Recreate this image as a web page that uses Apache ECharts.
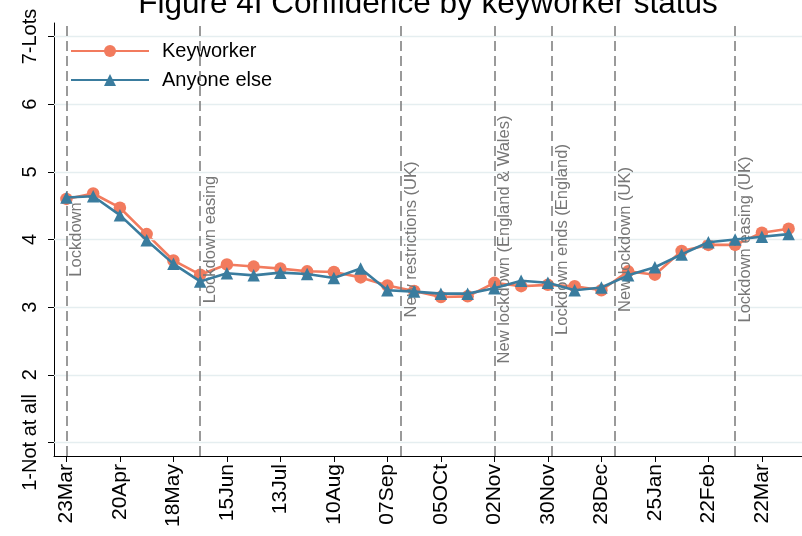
<!DOCTYPE html>
<html><head><meta charset="utf-8">
<script src="https://cdn.jsdelivr.net/npm/echarts@6/dist/echarts.min.js"></script>
<style>html,body{margin:0;padding:0;background:#fff}#c{width:802px;height:536px}</style>
</head><body><div id="c"></div>
<script>
const sampleDates = ['2020-03-23','2020-04-06','2020-04-20','2020-05-04','2020-05-18','2020-06-01','2020-06-15','2020-06-29','2020-07-13','2020-07-27','2020-08-10','2020-08-24','2020-09-07','2020-09-21','2020-10-05','2020-10-19','2020-11-02','2020-11-16','2020-11-30','2020-12-14','2020-12-28','2021-01-11','2021-01-25','2021-02-08','2021-02-22','2021-03-08','2021-03-22','2021-04-05'];
const keyworker = [4.60,4.68,4.47,4.08,3.69,3.48,3.63,3.60,3.57,3.53,3.52,3.44,3.32,3.24,3.15,3.16,3.36,3.31,3.33,3.31,3.25,3.53,3.48,3.83,3.92,3.92,4.10,4.16];
const anyoneElse = [4.62,4.64,4.36,3.99,3.64,3.38,3.50,3.47,3.51,3.49,3.43,3.57,3.25,3.23,3.20,3.20,3.28,3.39,3.36,3.25,3.29,3.47,3.59,3.78,3.96,4.00,4.04,4.08];
const tickDates = ['2020-03-23','2020-04-20','2020-05-18','2020-06-15','2020-07-13','2020-08-10','2020-09-07','2020-10-05','2020-11-02','2020-11-30','2020-12-28','2021-01-25','2021-02-22','2021-03-22'];
const tickLabels = ['23Mar','20Apr','18May','15Jun','13Jul','10Aug','07Sep','05OCt','02Nov','30Nov','28Dec','25Jan','22Feb','22Mar'];
const eventDates = ['2020-03-23','2020-06-01','2020-09-14','2020-11-02','2020-12-02','2021-01-04','2021-03-08'];
const eventLabels = ['Lockdown','Lockdown easing','New restrictions (UK)','New lockdown (England & Wales)','Lockdown ends (England)','New lockdown (UK)','Lockdown easing (UK)'];
const yTickValues = [1,2,3,4,5,6,7];
const yTickLabels = ['1-Not at all','2','3','4','5','6','7-Lots'];

const FONT = "'Liberation Sans', Arial, sans-serif";
const BASE = Date.UTC(2020,2,23);
function dayOf(s){const p=s.split('-').map(Number);return Math.round((Date.UTC(p[0],p[1]-1,p[2])-BASE)/86400000);}
const sampleDays = sampleDates.map(dayOf);
const tickDays = tickDates.map(dayOf);
const eventDays = eventDates.map(dayOf);
const KW = '#F27B5E', AE = '#3A7C9E';

const chart = echarts.init(document.getElementById('c'), null, {renderer:'canvas'});
chart.setOption({
  animation:false,
  backgroundColor:'#fff',
  textStyle:{fontFamily:FONT},
  graphic:[{type:'text', x:428, y:-12, style:{text:'Figure 4I Confidence by keyworker status', font:"31.5px "+FONT, fill:'#000', textAlign:'center', textVerticalAlign:'top'}}],
  legend:{data:['Keyworker','Anyone else'], orient:'vertical', left:65, top:36, itemWidth:78, itemHeight:15, itemGap:9,
    textStyle:{fontSize:20, color:'#000', fontFamily:FONT, padding:[0,0,0,8]}},
  grid:{left:54, right:0, top:23, bottom:80, containLabel:false},
  xAxis:{type:'value', min:-6.5, max:385,
    axisLine:{show:true, onZero:false, lineStyle:{color:'#000', width:1}},
    axisTick:{show:true, customValues:tickDays, length:6, lineStyle:{color:'#000'}},
    axisLabel:{show:true, customValues:tickDays, rotate:90, margin:8, fontSize:21, color:'#000', fontFamily:FONT,
      formatter:(v)=>{const i=tickDays.indexOf(Math.round(v));return i>=0?tickLabels[i]:'';}},
    splitLine:{show:false}},
  yAxis:{type:'value', min:0.8, max:7.2,
    axisLine:{show:true, onZero:false, lineStyle:{color:'#000', width:1}},
    axisTick:{show:true, customValues:yTickValues, length:6, lineStyle:{color:'#000'}},
    axisLabel:{show:true, customValues:yTickValues, rotate:90, margin:14, fontSize:20, color:'#000', fontFamily:FONT,
      formatter:(v)=>{const i=yTickValues.indexOf(Math.round(v));return i>=0?yTickLabels[i]:'';}},
    splitLine:{show:false}},
  series:[
    {type:'line', name:'grid', data:[], silent:true, z:1,
      markLine:{silent:true, symbol:['none','none'], animation:false, label:{show:false},
        lineStyle:{color:'#E5EEF0', width:1.3, type:'solid'},
        data:yTickValues.map(v=>({yAxis:v}))}},
    {type:'line', name:'events', data:[], silent:true, z:2,
      markLine:{silent:true, symbol:['none','none'], animation:false,
        lineStyle:{color:'#7a7a7a', width:1.5, type:[10,5]},
        label:{show:true, position:'insideMiddleBottom', distance:2, color:'#777', fontSize:16.5, fontFamily:FONT, formatter:(p)=>p.name},
        emphasis:{disabled:true},
        data:eventDays.map((d,i)=>({xAxis:d, name:eventLabels[i]}))}},
    {type:'line', name:'Keyworker', z:4, data:sampleDays.map((d,i)=>[d,keyworker[i]]),
      symbol:'circle', symbolSize:12.5, showSymbol:true,
      lineStyle:{color:KW, width:2.6}, itemStyle:{color:KW}},
    {type:'line', name:'Anyone else', z:5, data:sampleDays.map((d,i)=>[d,anyoneElse[i]]),
      symbol:'triangle', symbolSize:12.5, showSymbol:true,
      lineStyle:{color:AE, width:2.6}, itemStyle:{color:AE}}
  ]
});
</script></body></html>
